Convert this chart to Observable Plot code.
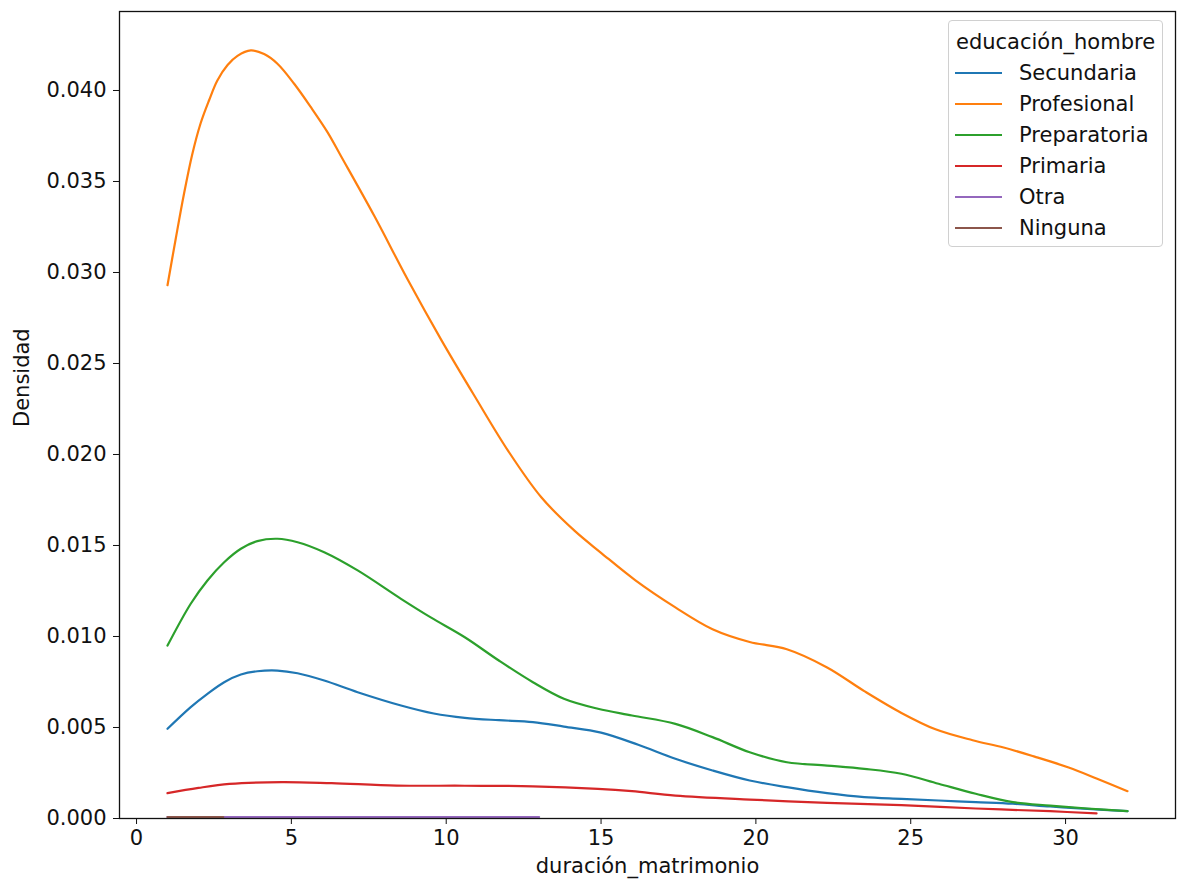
<!DOCTYPE html>
<html>
<head>
<meta charset="utf-8">
<script src="https://cdn.jsdelivr.net/npm/d3@7"></script>
<script src="https://cdn.jsdelivr.net/npm/@observablehq/plot@0.6"></script>
<style>
  body { margin: 0; background: #fff; font-family: "DejaVu Sans", sans-serif; }
  #wrap { position: relative; width: 1185px; height: 896px; }
  #legend { position: absolute; left: 948px; top: 20px; width: 215px; height: 227px;
            border: 1px solid #d0d0d0; border-radius: 4px; background: rgba(255,255,255,0.85);
            box-sizing: border-box; font-size: 21px; color: #111; }
  .ltitle { position: absolute; left: 7px; top: 8px; line-height: 26px; white-space: nowrap; }
  .lrow { position: absolute; left: 6px; height: 26px; white-space: nowrap; }
  .lrow .sw { position: absolute; left: 0; top: 12px; width: 47px; height: 0; border-top: 2.4px solid; }
  .lrow .lt { position: absolute; left: 64px; top: 0; line-height: 26px; }
</style>
</head>
<body>
<div id="wrap"><div id="chart"></div><div id="legend"></div></div>
<script>
// Series names (legend order) and colours
const seriesNames = ["Secundaria", "Profesional", "Preparatoria", "Primaria", "Otra", "Ninguna"];
const seriesColors = ["#1f77b4", "#ff7f0e", "#2ca02c", "#d62728", "#9467bd", "#8c564b"];

// Axis ticks
const xTicks = [0, 5, 10, 15, 20, 25, 30];
const yTicks = [0, 0.005, 0.010, 0.015, 0.020, 0.025, 0.030, 0.035, 0.040];

// Density curves
const xSecundaria = [1, 1.75, 2.29, 2.83, 3.37, 3.9, 4.55, 5.2, 6.06, 7.14, 8.54, 9.6, 10.6, 11.7, 12.8, 13.8, 15, 16.2, 17.4, 18.6, 19.8, 21, 22.3, 23.5, 24.7, 25.9, 27.1, 28.3, 29.5, 30.7, 32];
const ySecundaria = [0.00493, 0.00612, 0.00685, 0.00749, 0.00791, 0.00809, 0.00813, 0.00798, 0.00758, 0.00694, 0.00621, 0.00577, 0.00553, 0.0054, 0.0053, 0.00505, 0.00472, 0.00405, 0.00328, 0.00264, 0.00209, 0.00172, 0.00139, 0.00117, 0.00108, 0.00099, 0.0009, 0.00081, 0.00066, 0.00053, 0.0004];

const xProfesional = [1, 1.26, 1.53, 1.8, 2.07, 2.34, 2.61, 2.94, 3.26, 3.69, 4.12, 4.55, 5.09, 5.63, 6.17, 6.6, 7.68, 8.76, 9.84, 10.92, 12, 13.07, 14.15, 15, 16.1, 17.4, 18.6, 19.8, 21, 22.3, 23.5, 24.7, 25.8, 27, 28, 29, 30.1, 31, 32];
const yProfesional = [0.0293, 0.0318, 0.0343, 0.0365, 0.0382, 0.03945, 0.04055, 0.0414, 0.0419, 0.0422, 0.0420, 0.04147, 0.04037, 0.03908, 0.0377, 0.0364, 0.0331, 0.0296, 0.0263, 0.0232, 0.0202, 0.01765, 0.0158, 0.0146, 0.0131, 0.0116, 0.0104, 0.0097, 0.0093, 0.0083, 0.0070, 0.0058, 0.0049, 0.0043, 0.0039, 0.0034, 0.0028, 0.0022, 0.0015];

const xPreparatoria = [1, 1.75, 2.29, 2.83, 3.37, 3.9, 4.55, 5.2, 6.06, 7.14, 8.54, 9.5, 10.6, 11.7, 12.8, 13.8, 14.9, 16, 17.4, 18.6, 19.8, 21, 22.3, 23.5, 24.7, 25.9, 27.1, 28.3, 29.5, 30.7, 32];
const yPreparatoria = [0.0095, 0.0118, 0.01308, 0.01408, 0.01482, 0.01524, 0.01537, 0.01518, 0.01463, 0.01363, 0.01207, 0.01105, 0.00996, 0.00868, 0.00749, 0.00658, 0.00603, 0.00566, 0.0052, 0.00447, 0.00364, 0.00309, 0.00291, 0.00273, 0.00246, 0.00191, 0.00136, 0.0009, 0.00071, 0.00055, 0.0004];

const xPrimaria = [1, 2, 3, 4.7, 6.3, 8.4, 10.6, 12.8, 14.9, 16, 17.4, 19.8, 22.3, 24.7, 27.1, 29.5, 31];
const yPrimaria = [0.00139, 0.00168, 0.0019, 0.002, 0.00194, 0.00181, 0.0018, 0.00177, 0.00163, 0.0015, 0.00126, 0.00104, 0.00086, 0.00073, 0.00055, 0.0004, 0.00028];

const xOtra = [1, 13];
const yOtra = [0.00008, 0.00008];

const xNinguna = [1, 2.8];
const yNinguna = [0.00008, 0.00008];

// Build long table
const seriesX = [xSecundaria, xProfesional, xPreparatoria, xPrimaria, xOtra, xNinguna];
const seriesY = [ySecundaria, yProfesional, yPreparatoria, yPrimaria, yOtra, yNinguna];
const rows = [];
seriesNames.forEach((name, i) => {
  seriesX[i].forEach((x, j) => rows.push({serie: name, x, y: seriesY[i][j]}));
});

const chart = Plot.plot({
  width: 1185,
  height: 896,
  marginLeft: 119,
  marginRight: 10,
  marginTop: 11,
  marginBottom: 78,
  style: {fontFamily: "DejaVu Sans, sans-serif", fontSize: "21px", color: "#111", background: "white"},
  x: {domain: [-0.55, 33.55]},
  y: {domain: [0, 0.04434]},
  color: {domain: seriesNames, range: seriesColors},
  marks: [
    Plot.line(rows, {x: "x", y: "y", z: "serie", stroke: "serie", strokeWidth: 2.2, curve: "catmull-rom"}),
    Plot.frame({stroke: "#111", strokeWidth: 1.3}),
    Plot.axisX({ticks: xTicks, tickFormat: d => String(d), label: null, tickSize: 6, tickPadding: 6, stroke: "#111"}),
    Plot.axisY({ticks: yTicks, tickFormat: d3.format(".3f"), label: null, tickSize: 6, tickPadding: 7, stroke: "#111"}),
    Plot.text(["duración_matrimonio"], {frameAnchor: "bottom", dy: 54, fontSize: 21, fill: "#111"}),
    Plot.text(["Densidad"], {frameAnchor: "left", dx: -97, dy: 12, rotate: -90, fontSize: 21, fill: "#111"})
  ]
});
document.getElementById("chart").appendChild(chart);

// Legend
const legend = document.getElementById("legend");
const t = document.createElement("div");
t.className = "ltitle";
t.textContent = "educación_hombre";
legend.appendChild(t);
seriesNames.forEach((name, i) => {
  const r = document.createElement("div");
  r.className = "lrow";
  r.style.top = (39 + 31 * i) + "px";
  const sw = document.createElement("div");
  sw.className = "sw";
  sw.style.borderTopColor = seriesColors[i];
  const lt = document.createElement("div");
  lt.className = "lt";
  lt.textContent = name;
  r.appendChild(sw); r.appendChild(lt);
  legend.appendChild(r);
});
</script>
</body>
</html>
